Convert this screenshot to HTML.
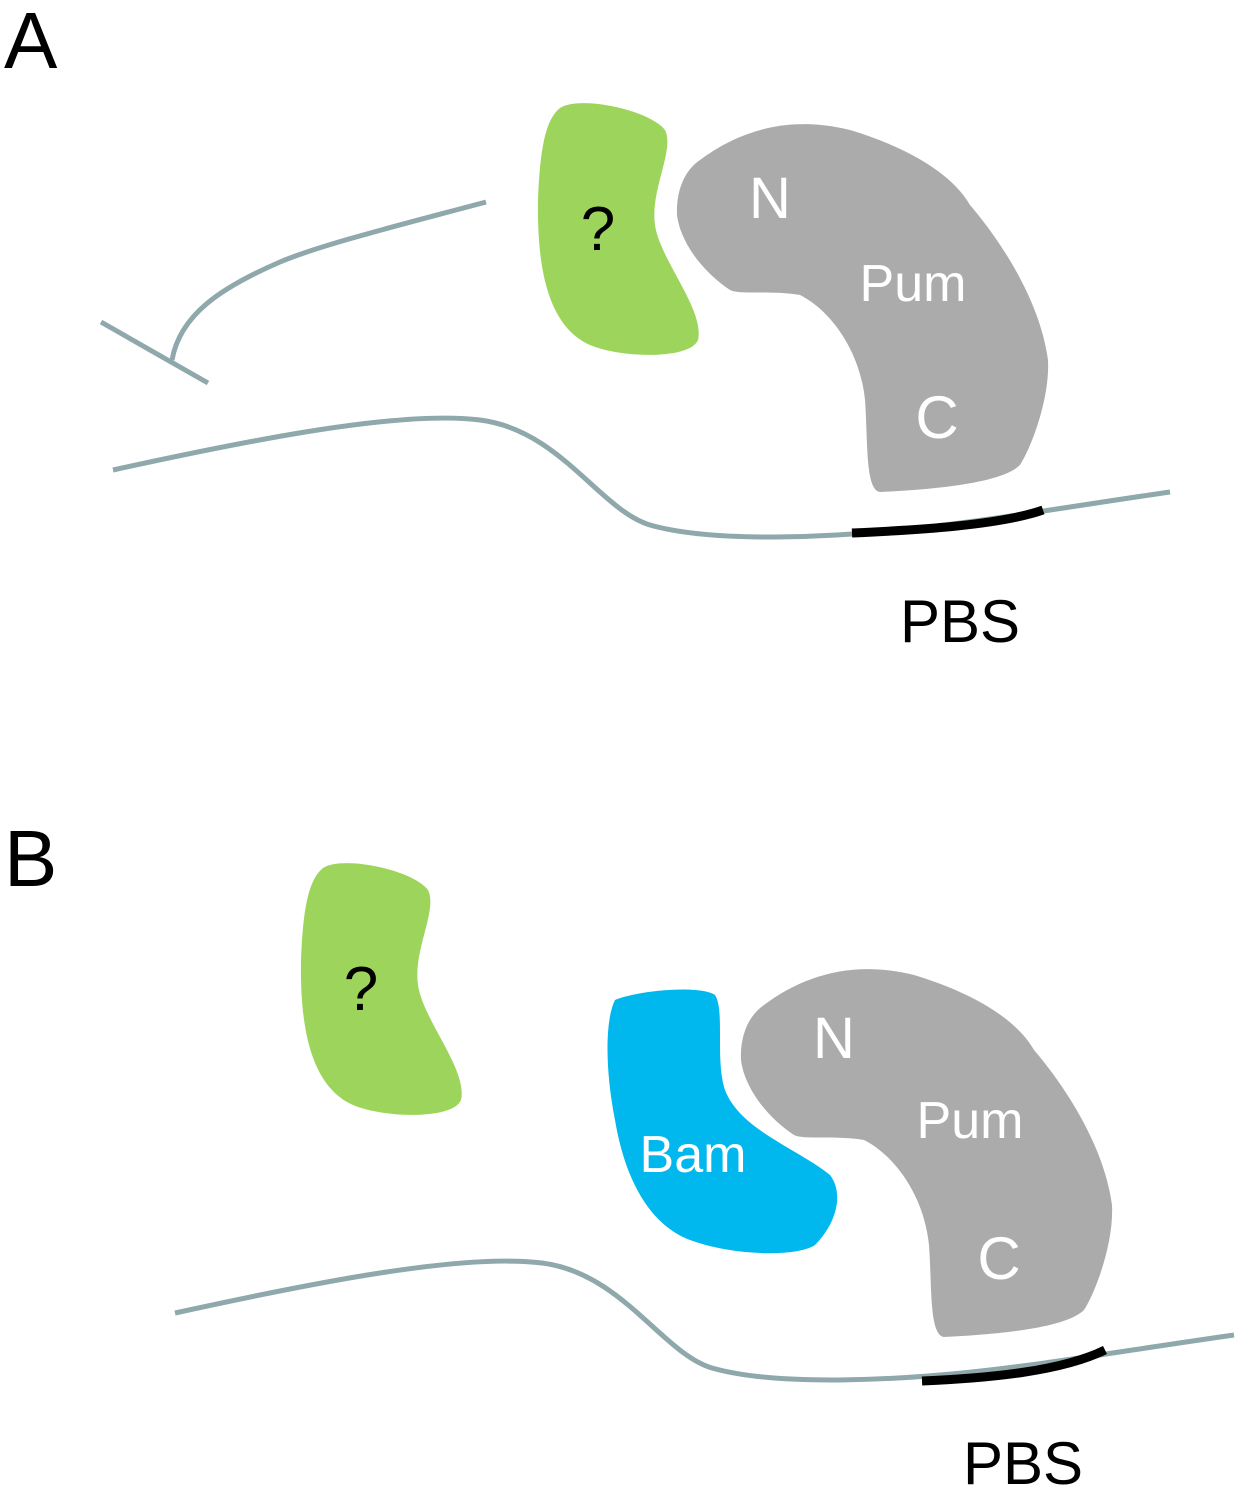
<!DOCTYPE html>
<html><head><style>
html,body{margin:0;padding:0;background:#fff;}
svg{display:block;}
text{font-family:"Liberation Sans",sans-serif;}
</style></head><body>
<svg width="1242" height="1490" viewBox="0 0 1242 1490" xmlns="http://www.w3.org/2000/svg">
<!-- Panel A -->
<text x="4" y="68" font-size="80" fill="#000">A</text>
<path d="M560,108 C580,95 650,110 665,130 C675,150 650,190 655,225 C660,260 705,310 698,340 C690,360 620,358 590,345 C545,325 537,260 538,200 C540,150 545,120 560,108 Z" fill="#9dd55c"/>
<text x="598" y="250" font-size="62" fill="#000" text-anchor="middle">?</text>
<path d="M700,160 C740,130 790,115 850,130 C900,145 950,170 970,205 C1000,240 1040,300 1048,360 C1050,400 1030,450 1020,465 C1000,485 920,490 880,492 C865,490 868,440 865,400 C860,350 830,310 800,295 C770,290 740,295 730,290 C700,270 680,240 677,215 C676,190 685,170 700,160 Z" fill="#ababab"/>
<text x="770" y="218" font-size="58" fill="#fff" text-anchor="middle">N</text>
<text x="913" y="301" font-size="52" fill="#fff" text-anchor="middle">Pum</text>
<text x="937" y="438" font-size="60" fill="#fff" text-anchor="middle">C</text>
<path d="M486,202 C400,225 320,245 280,262 C220,288 180,315 172,360" fill="none" stroke="#8fa8ab" stroke-width="5"/>
<line x1="101" y1="322" x2="208" y2="383" stroke="#8fa8ab" stroke-width="5"/>
<path d="M113,470 C250,440 400,410 480,420 C560,430 600,510 650,525 C720,545 850,535 900,530 C980,522 1060,508 1170,492" fill="none" stroke="#8fa8ab" stroke-width="5"/>
<path d="M852,533 C920,530 1000,525 1043,510" fill="none" stroke="#000" stroke-width="9"/>
<text x="960" y="642" font-size="60" fill="#000" text-anchor="middle">PBS</text>

<!-- Panel B -->
<text x="4" y="886" font-size="80" fill="#000">B</text>
<g transform="translate(-237,760)">
<path d="M560,108 C580,95 650,110 665,130 C675,150 650,190 655,225 C660,260 705,310 698,340 C690,360 620,358 590,345 C545,325 537,260 538,200 C540,150 545,120 560,108 Z" fill="#9dd55c"/>
<text x="598" y="250" font-size="62" fill="#000" text-anchor="middle">?</text>
</g>
<path d="M615,1000 C640,990 700,985 715,995 C725,1010 715,1060 725,1090 C740,1130 800,1150 830,1175 C845,1195 835,1225 815,1245 C795,1258 730,1255 690,1240 C650,1225 625,1180 615,1120 C605,1070 605,1020 615,1000 Z" fill="#00b8ee"/>
<text x="693" y="1172" font-size="52" fill="#fff" text-anchor="middle">Bam</text>
<g transform="translate(64,845)">
<path d="M700,160 C740,130 790,115 850,130 C900,145 950,170 970,205 C1000,240 1040,300 1048,360 C1050,400 1030,450 1020,465 C1000,485 920,490 880,492 C865,490 868,440 865,400 C860,350 830,310 800,295 C770,290 740,295 730,290 C700,270 680,240 677,215 C676,190 685,170 700,160 Z" fill="#ababab"/>
<text x="770" y="213" font-size="58" fill="#fff" text-anchor="middle">N</text>
<text x="906" y="293" font-size="52" fill="#fff" text-anchor="middle">Pum</text>
<text x="935" y="434" font-size="60" fill="#fff" text-anchor="middle">C</text>
</g>
<g transform="translate(62,843)">
<path d="M113,470 C250,440 400,410 480,420 C560,430 600,510 650,525 C720,545 850,535 900,530 C980,522 1060,508 1172,492" fill="none" stroke="#8fa8ab" stroke-width="5"/>
<path d="M860,538 C930,535 1000,528 1043,507" fill="none" stroke="#000" stroke-width="9"/>
</g>
<text x="1023" y="1484" font-size="60" fill="#000" text-anchor="middle">PBS</text>
</svg>
</body></html>
